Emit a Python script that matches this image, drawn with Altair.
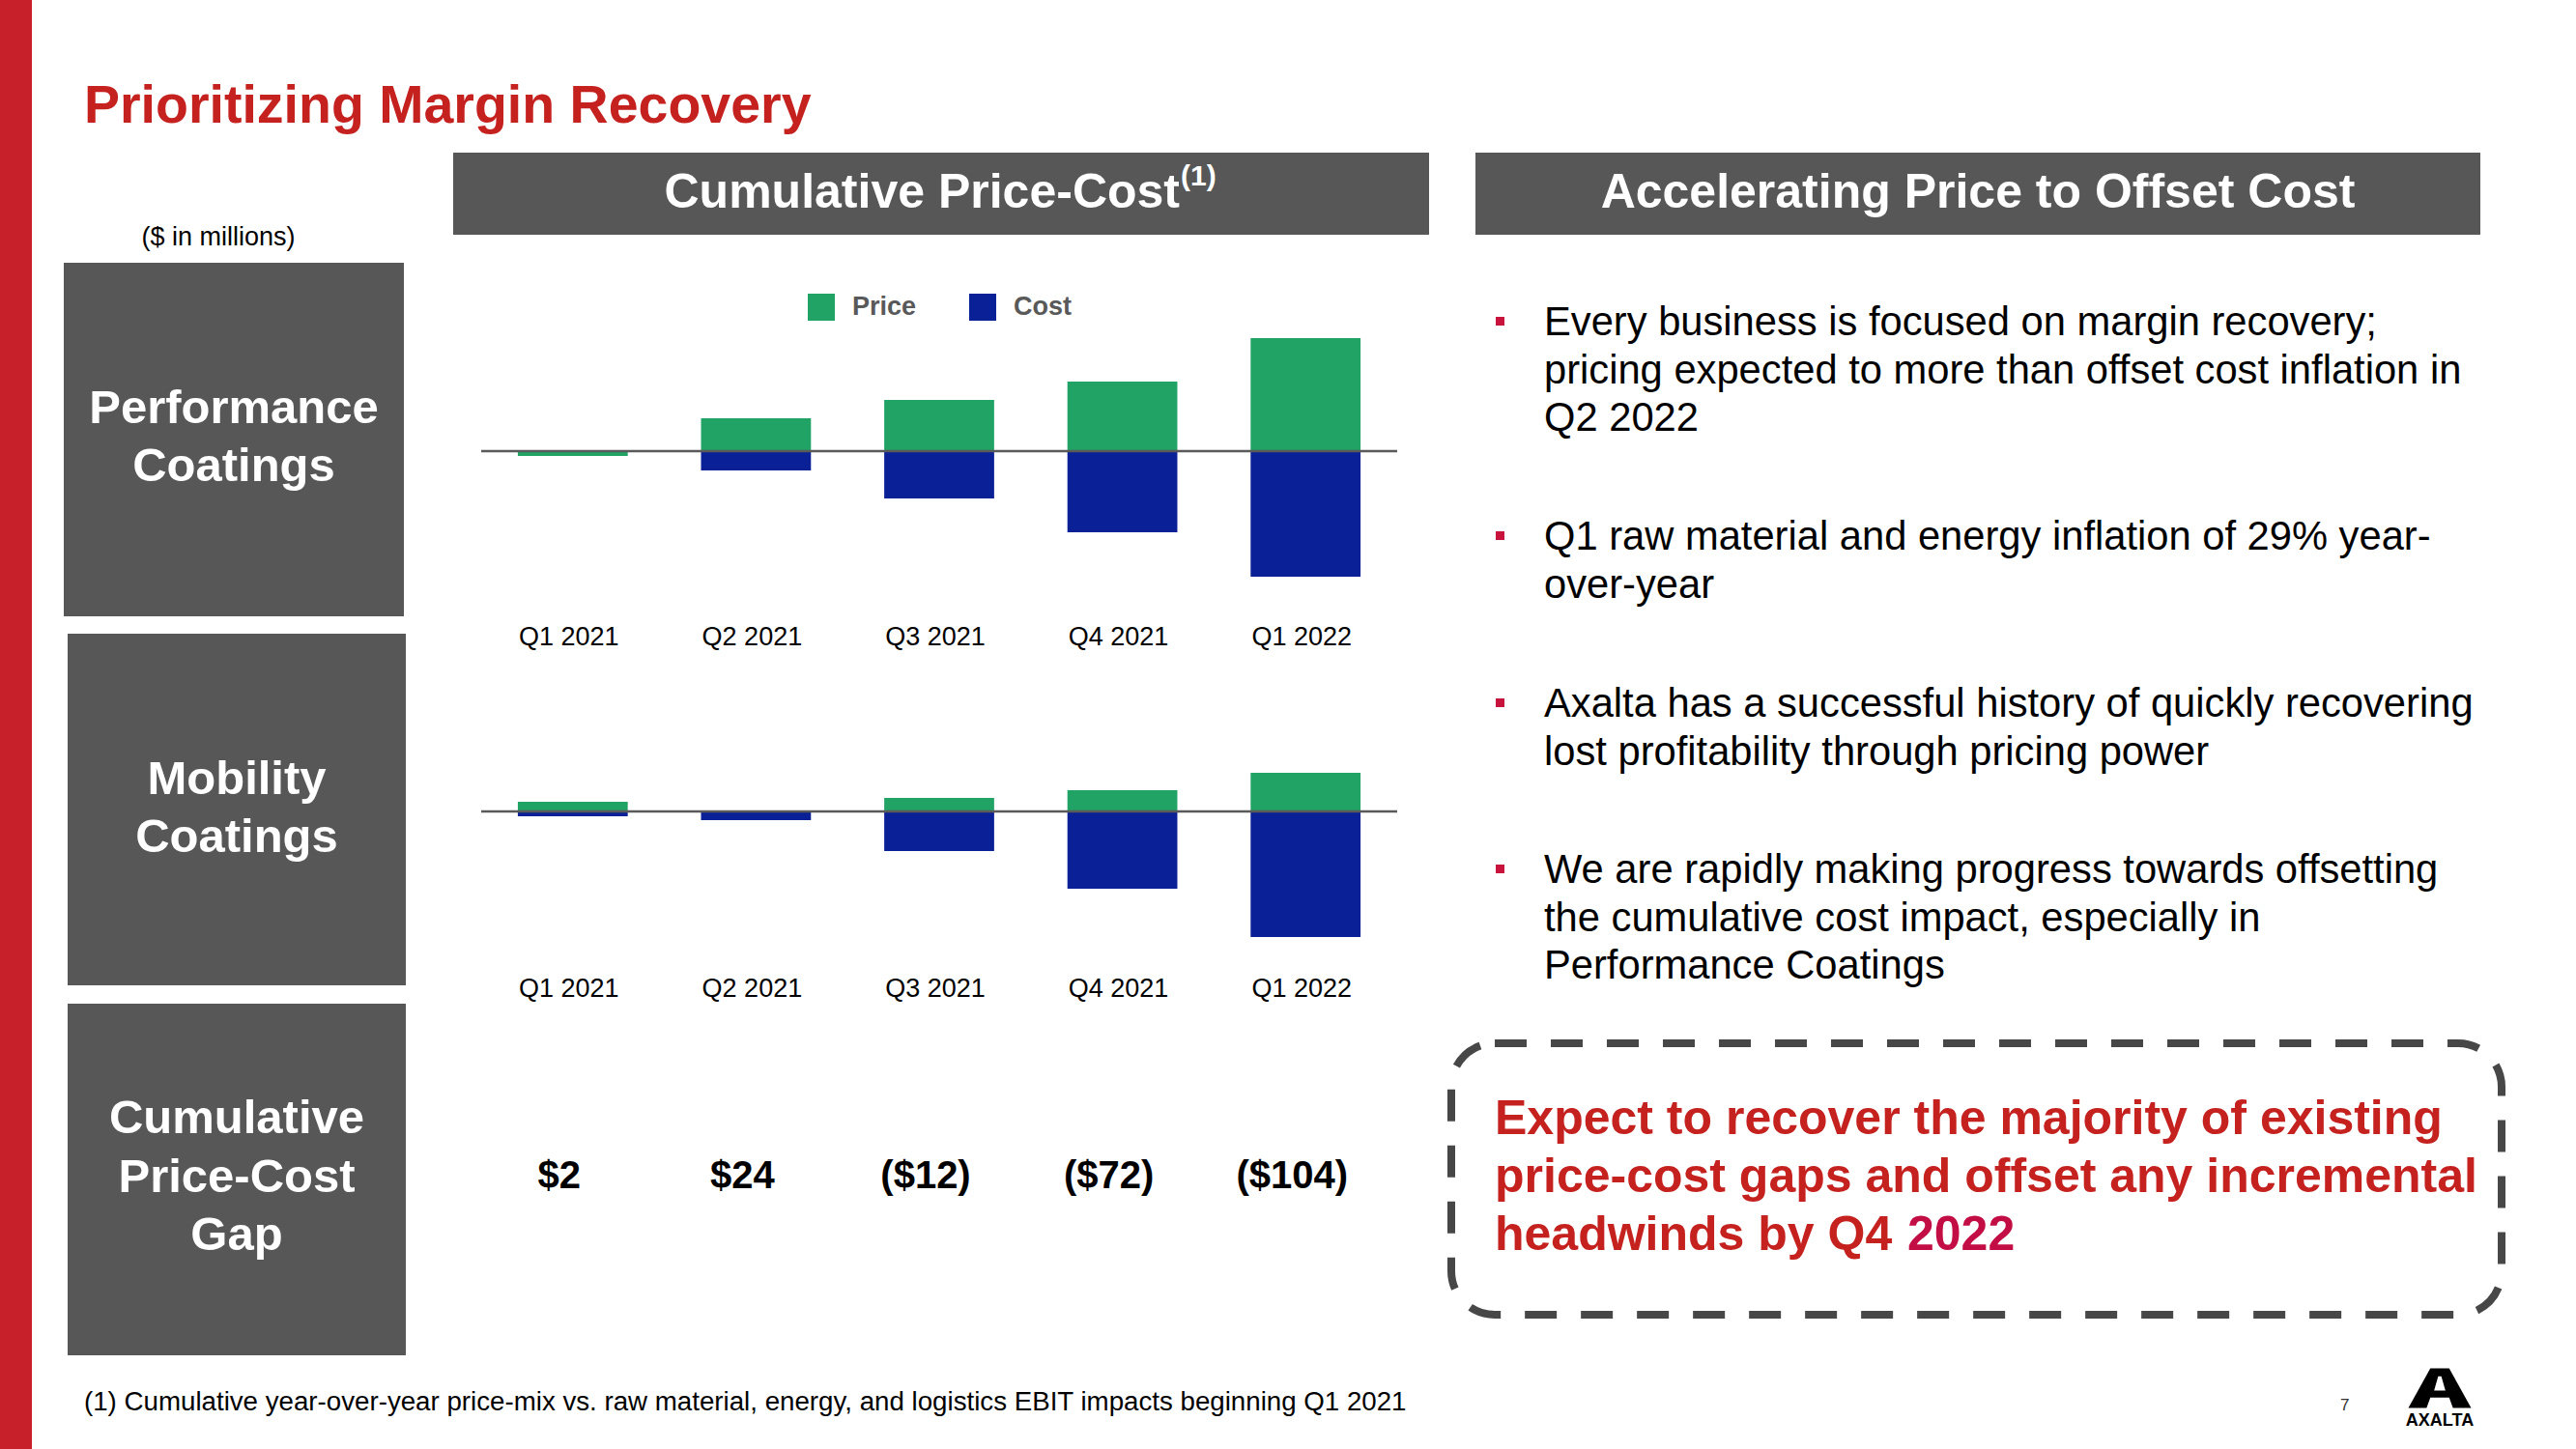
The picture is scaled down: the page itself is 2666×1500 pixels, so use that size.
import altair as alt
import pandas as pd

# ---------------- data ----------------
quarters = ["Q1 2021", "Q2 2021", "Q3 2021", "Q4 2021", "Q1 2022"]
series = ["Price", "Cost"]
perf_price = [-5, 34, 53, 72, 117]
perf_cost = [0, -20, -49, -84, -130]
mob_price = [10, 1, 14, 22, 40]
mob_cost = [-5, -9, -41, -80, -130]
gap = [2, 24, -12, -72, -104]

segments = [["Performance", "Coatings"], ["Mobility", "Coatings"], ["Cumulative", "Price-Cost", "Gap"]]
bullets = [
    ["Every business is focused on margin recovery;",
     "pricing expected to more than offset cost inflation in",
     "Q2 2022"],
    ["Q1 raw material and energy inflation of 29% year-",
     "over-year"],
    ["Axalta has a successful history of quickly recovering",
     "lost profitability through pricing power"],
    ["We are rapidly making progress towards offsetting",
     "the cumulative cost impact, especially in",
     "Performance Coatings"],
]
callout = ["Expect to recover the majority of existing",
           "price-cost gaps and offset any incremental",
           "headwinds by Q4"]
callout_year = "2022"
title = "Prioritizing Margin Recovery"
header_left = "Cumulative Price-Cost"
header_sup = "(1)"
header_right = "Accelerating Price to Offset Cost"
units = "($ in millions)"
footnote = ("(1) Cumulative year-over-year price-mix vs. raw material, energy, "
            "and logistics EBIT impacts beginning Q1 2021")

# ---------------- styles ----------------
FONT = "Liberation Sans"
GREEN = "#21A366"
BLUE = "#0A2096"
GRAY = "#575757"
RED = "#C4211F"
BAR_RED = "#C8202A"
BULLET = "#C8143C"


def long(price, cost):
    rows = []
    for q, p, c in zip(quarters, price, cost):
        rows.append({"quarter": q, "series": "Price", "value": p})
        rows.append({"quarter": q, "series": "Cost", "value": c})
    return pd.DataFrame(rows)


perf_df = long(perf_price, perf_cost)
mob_df = long(mob_price, mob_cost)
q_df = pd.DataFrame({"quarter": quarters, "gap": gap})
q_df["label"] = [f"${g}" if g >= 0 else f"(${-g})" for g in gap]
one = pd.DataFrame({"k": [0]})

x_scale = alt.Scale(domain=quarters, range=[498, 1446], paddingInner=0.4, paddingOuter=0.2)
color_scale = alt.Scale(domain=series, range=[GREEN, BLUE])
legend = alt.Legend(orient="none", legendX=836, legendY=304, direction="horizontal",
                    title=None, symbolType="square", symbolSize=784, symbolStrokeWidth=0,
                    labelFont=FONT, labelFontSize=27, labelFontWeight="bold",
                    labelColor="#595959", labelOffset=18, columnPadding=54, padding=0)


def bar_panel(df, zero_px):
    y_scale = alt.Scale(domain=[-500, 300], range=[zero_px + 500, zero_px - 300],
                        nice=False, zero=False)
    b = alt.Chart(df).mark_bar().encode(
        x=alt.X("quarter:N", scale=x_scale, axis=None),
        y=alt.Y("value:Q", scale=y_scale, axis=None, stack=None),
        color=alt.Color("series:N", scale=color_scale, legend=legend),
    )
    r = alt.Chart(one).mark_rule(color="#5a5a5a", strokeWidth=2.5).encode(
        y=alt.YDatum(0, axis=None), x=alt.value(498), x2=alt.value(1446))
    return alt.layer(b, r)


def rect(x1, x2, y1, y2, color):
    return alt.Chart(one).mark_rect(color=color).encode(
        x=alt.value(x1), x2=alt.value(x2), y=alt.value(y1), y2=alt.value(y2))


def text(lines, x, y, size, weight="normal", color="black", align="left", lh=None):
    kw = dict(text=lines, font=FONT, fontSize=size, fontWeight=weight, color=color,
              align=align, baseline="alphabetic")
    if lh is not None:
        kw["lineHeight"] = lh
    return alt.Chart(one).mark_text(**kw).encode(x=alt.value(x), y=alt.value(y))


def qlabels(y):
    return alt.Chart(q_df).mark_text(font=FONT, fontSize=27, color="black",
                                     baseline="alphabetic", dx=-4).encode(
        x=alt.X("quarter:N", scale=x_scale, axis=None), y=alt.value(y), text="quarter:N")


layers = []
# frame decorations
layers.append(rect(0, 33, 0, 1500, BAR_RED))
layers.append(rect(469, 1479, 158, 243, GRAY))
layers.append(rect(1527, 2567, 158, 243, GRAY))
layers.append(rect(66, 418, 272, 638, GRAY))
layers.append(rect(70, 420, 656, 1020, GRAY))
layers.append(rect(70, 420, 1039, 1403, GRAY))

# texts
layers.append(text(title, 87, 127, 55.5, "bold", RED))
layers.append(text(header_left, 1221, 215, 50, "bold", "white", "right"))
layers.append(text(header_sup, 1222, 192, 30, "bold", "white"))
layers.append(text(header_right, 2047, 215, 50, "bold", "white", "center"))
layers.append(text(units, 226, 254, 27, "normal", "black", "center"))
layers.append(text(segments[0], 242, 438, 49, "bold", "white", "center", 60))
layers.append(text(segments[1], 245, 822, 49, "bold", "white", "center", 60))
layers.append(text(segments[2], 245, 1173, 49, "bold", "white", "center", 60.5))

bullet_base = [347, 569, 742, 914]
for lines, yb in zip(bullets, bullet_base):
    layers.append(alt.Chart(one).mark_square(size=81, color=BULLET, opacity=1).encode(
        x=alt.value(1552.5), y=alt.value(yb - 14.5)))
    layers.append(text(lines, 1598, yb, 41.7, "normal", "black", "left", 49.5))

# dashed callout
layers.append(alt.Chart(one).mark_rect(fill="white", stroke="#474747", strokeWidth=8,
                                       strokeDash=[33, 25], cornerRadius=45).encode(
    x=alt.value(1502), x2=alt.value(2589), y=alt.value(1080), y2=alt.value(1361)))
layers.append(text(callout, 1547, 1174, 50, "bold", RED, "left", 60))
layers.append(text(callout_year, 1974, 1294, 50, "bold", "#C30D45"))

layers.append(text(footnote, 87, 1460, 27.7, "normal", "black"))
layers.append(text("7", 2422, 1460, 17, "normal", "#333333"))

# logo
logo_path = ("M -1 0.63 L -0.3 -0.63 L 0.3 -0.63 L 1 0.63 L 0.42 0.63 L 0.3 0.3 "
             "L -0.3 0.3 L -0.42 0.63 Z M -0.18 0.08 L 0.18 0.08 L 0.05 -0.38 L -0.05 -0.38 Z")
layers.append(alt.Chart(one).mark_point(shape=logo_path, size=4225, filled=True,
                                        color="black", opacity=1).encode(
    x=alt.value(2525), y=alt.value(1437)))
layers.append(text("AXALTA", 2525, 1476, 18, "bold", "black", "center"))

# charts
layers.append(bar_panel(perf_df, 467))
layers.append(bar_panel(mob_df, 840))
layers.append(qlabels(668))
layers.append(qlabels(1032))
layers.append(alt.Chart(q_df).mark_text(font=FONT, fontSize=40, fontWeight="bold",
                                        color="black", baseline="alphabetic", dx=-14).encode(
    x=alt.X("quarter:N", scale=x_scale, axis=None), y=alt.value(1230), text="label:N"))

chart = alt.layer(*layers).resolve_scale(y="independent").properties(
    width=2666, height=1500, autosize="none", padding=0, background="white"
).configure_view(stroke=None)

chart.save("out.html", embed_options={"renderer": "svg", "actions": False})
